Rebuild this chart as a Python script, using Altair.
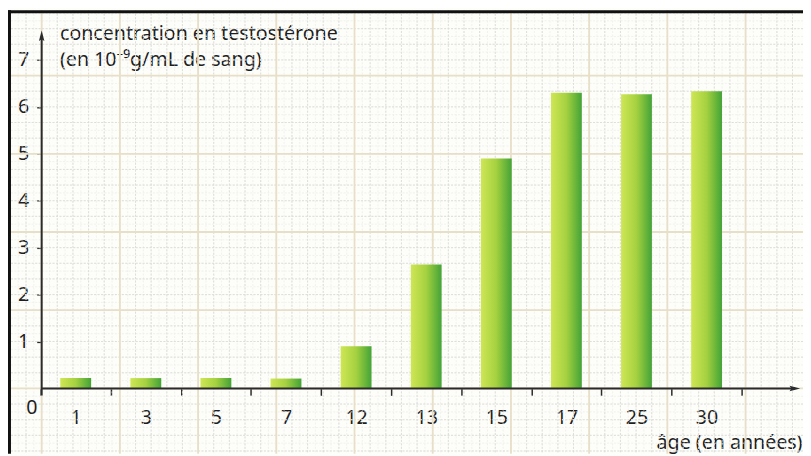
import altair as alt
import pandas as pd
import numpy as np

# ---- data ----
ages = ["1", "3", "5", "7", "12", "13", "15", "17", "25", "30"]
conc = [0.22, 0.22, 0.22, 0.21, 0.90, 2.64, 4.90, 6.30, 6.27, 6.33]
y_ticks = [1, 2, 3, 4, 5, 6, 7]
y_title = ["concentration en testostérone", "(en 10⁻⁹g/mL de sang)"]
x_title = "âge (en années)"
origin_label = ["0"]

# ---- layout (chart pixels) ----
W, H = 803, 448
ORIGIN_X, ORIGIN_Y = 34, 382
PX_UNIT = 47.4          # pixels per 1e-9 g/mL
PX_CM = 79.0            # graph-paper major square
FONT = "Noto Sans"
FS = 19.8
INK = "#2b2b2b"
TXT = "#1e1e1e"

y_scale = alt.Scale(domain=[-(H - ORIGIN_Y) / PX_UNIT, ORIGIN_Y / PX_UNIT],
                    nice=False, zero=False)

df = pd.DataFrame({"age": ages, "conc": conc})
one = pd.DataFrame({"lbl": origin_label, "v0": [0.0], "ylo": [-0.15], "yhi": [7.5]})

# ---- graph paper (independent cm scales) ----
cm_lo_x, cm_hi_x = -ORIGIN_X / PX_CM, (W - ORIGIN_X) / PX_CM
cm_lo_y, cm_hi_y = -(H - ORIGIN_Y) / PX_CM, ORIGIN_Y / PX_CM
cm_x = alt.Scale(domain=[cm_lo_x, cm_hi_x], nice=False, zero=False)
cm_y = alt.Scale(domain=[cm_lo_y, cm_hi_y], nice=False, zero=False)
fine_x = pd.DataFrame({"vx": np.round(np.arange(-4, 97) * 0.1, 2)})
fine_y = pd.DataFrame({"hy": np.round(np.arange(-8, 49) * 0.1, 2)})
mid_x = pd.DataFrame({"vx": np.round(np.arange(-2, 49) * 0.2, 2)})
mid_y = pd.DataFrame({"hy": np.round(np.arange(-4, 25) * 0.2, 2)})
maj_x = pd.DataFrame({"vx": np.arange(0, 10)})
maj_y = pd.DataFrame({"hy": np.arange(0, 5)})
# page frame (top and left edges of the printed figure)
frame_x = pd.DataFrame({"vx": [cm_lo_x + 1.5 / PX_CM]})
frame_y = pd.DataFrame({"hy": [cm_hi_y - 1.5 / PX_CM]})

def vrules(d, **kw):
    return alt.Chart(d).mark_rule(**kw).encode(x=alt.X("vx:Q", scale=cm_x, axis=None))

def hrules(d, **kw):
    return alt.Chart(d).mark_rule(**kw).encode(y=alt.Y("hy:Q", scale=cm_y, axis=None))

paper = alt.layer(
    vrules(fine_x, color="#ededeb", strokeWidth=0.8, strokeDash=[2, 1.5]),
    hrules(fine_y, color="#ededeb", strokeWidth=0.8, strokeDash=[2, 1.5]),
    vrules(mid_x, color="#dbdbd8", strokeWidth=0.9, strokeDash=[2, 1.5]),
    hrules(mid_y, color="#dbdbd8", strokeWidth=0.9, strokeDash=[2, 1.5]),
    vrules(maj_x, color="#e8dfc8", strokeWidth=1.8),
    hrules(maj_y, color="#e8dfc8", strokeWidth=1.8),
    vrules(frame_x, color="#111", strokeWidth=3),
    hrules(frame_y, color="#111", strokeWidth=3),
)

# ---- bars and axes ----
bar_grad = alt.Gradient(
    gradient="linear",
    stops=[alt.GradientStop(color="#cfe655", offset=0),
           alt.GradientStop(color="#a5d140", offset=0.5),
           alt.GradientStop(color="#43a337", offset=1)],
    x1=0, x2=1, y1=0, y2=0,
)

bars = alt.Chart(df).mark_bar(width=alt.RelativeBandSize(0.44), color=bar_grad).encode(
    x=alt.X("age:N", sort=ages,
            scale=alt.Scale(range=[33, 741], paddingInner=0, paddingOuter=0),
            axis=alt.Axis(orient="bottom", offset=-(H - ORIGIN_Y), domain=False,
                          tickBand="extent", tickSize=7, tickColor=INK, tickWidth=1.5,
                          labelAngle=0, labelFont=FONT, labelFontSize=FS, labelColor=TXT,
                          labelPadding=12, grid=False,
                          title=x_title, titleFont=FONT, titleFontSize=FS,
                          titleFontWeight="normal", titleColor=TXT,
                          titleAlign="right", titleBaseline="alphabetic",
                          titleX=W - 1, titleY=61)),
    y=alt.Y("conc:Q", scale=y_scale,
            axis=alt.Axis(orient="left", offset=-ORIGIN_X, domain=False, values=y_ticks,
                          tickSize=5, tickColor=INK, tickWidth=1.5,
                          labelFont=FONT, labelFontSize=FS, labelColor=TXT,
                          labelPadding=8, grid=False,
                          title=y_title, titleFont=FONT, titleFontSize=FS,
                          titleFontWeight="normal", titleColor=TXT, titleAngle=0,
                          titleAlign="left", titleBaseline="top", titleLineHeight=26,
                          titleX=18, titleY=14)),
    y2=alt.datum(0),
)

base1 = alt.Chart(one)
y_line = base1.mark_rule(color=INK, strokeWidth=2).encode(
    x=alt.value(ORIGIN_X), y=alt.Y("ylo:Q"), y2="yhi:Q")
y_arrow = base1.mark_point(
    shape="M0,-1L0.45,0.75L0,0.45L-0.45,0.75Z", filled=True, size=150,
    color=INK, opacity=1).encode(x=alt.value(ORIGIN_X), y=alt.Y("yhi:Q"))
x_line = base1.mark_rule(color=INK, strokeWidth=2).encode(
    x=alt.value(ORIGIN_X), x2=alt.value(W - 8), y=alt.Y("v0:Q"))
x_arrow = base1.mark_point(
    shape="M1,0L-0.75,0.45L-0.45,0L-0.75,-0.45Z", filled=True, size=150,
    color=INK, opacity=1).encode(x=alt.value(W - 9), y=alt.Y("v0:Q"))
zero_lbl = base1.mark_text(
    font=FONT, fontSize=FS, fontWeight="normal", color=TXT,
    baseline="middle", dy=20
).encode(x=alt.value(24), y=alt.Y("v0:Q"), text="lbl:N")

data_layer = alt.layer(bars, y_line, y_arrow, x_line, x_arrow, zero_lbl)

chart = alt.layer(paper, data_layer).resolve_scale(
    x="independent", y="independent"
).properties(
    width=W, height=H, padding=0, autosize=alt.AutoSizeParams(type="none"),
    background="#fdfdf9",
    view=alt.ViewBackground(stroke="transparent", strokeWidth=0, strokeOpacity=0),
).configure_view(stroke="transparent", strokeWidth=0, strokeOpacity=0)

chart.save("out.html", embed_options={"renderer": "svg", "actions": False})
